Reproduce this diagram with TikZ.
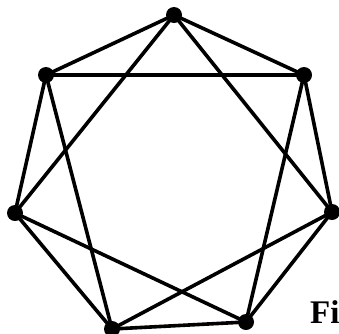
\documentclass[tikz,border=0pt]{standalone}
\usepackage{fontspec}
\setmainfont{Liberation Serif}
\begin{document}
\begin{tikzpicture}[x=1pt,y=-1pt,
  edge/.style={line width=3.6pt},
  vtx/.style={circle,fill=black,inner sep=0pt,minimum size=16pt}]
\useasboundingbox (0,0) rectangle (339,333);
\node[vtx] (v0) at (174,15) {};
\node[vtx] (v1) at (304,75) {};
\node[vtx] (v2) at (332,212) {};
\node[vtx] (v3) at (246,322) {};
\node[vtx] (v4) at (112,329) {};
\node[vtx] (v5) at (15,213) {};
\node[vtx] (v6) at (46,75) {};
\foreach \a/\b in {0/1,1/2,2/3,3/4,4/5,5/6,6/0,0/2,1/3,2/4,3/5,4/6,5/0,6/1}
  \draw[edge] (v\a.center) -- (v\b.center);
\node[anchor=base west,inner sep=0pt,font=\bfseries\fontsize{33}{33}\selectfont] (fig) at (310,323) {Fi};
\end{tikzpicture}
\end{document}
